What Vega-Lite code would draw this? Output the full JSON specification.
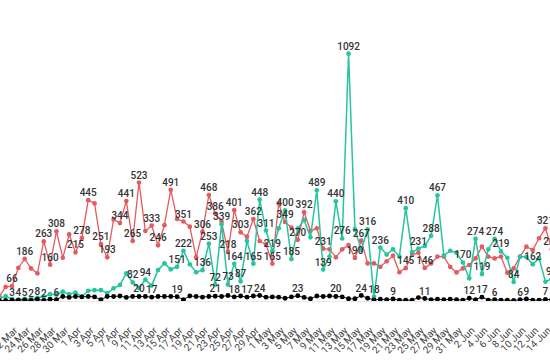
{
  "$schema": "https://vega.github.io/schema/vega-lite/v6.json",
  "width": 550,
  "height": 301,
  "padding": {"left": 0, "top": 0, "right": 0, "bottom": 61},
  "autosize": {"type": "none"},
  "background": "white",
  "config": {"view": {"stroke": null}, "font": "Roboto"},
  "data": {"values": [
    {"d":"2020-03-20","r":20,"t":10,"b":2},
    {"d":"2020-03-21","r":62,"t":22,"b":2},
    {"d":"2020-03-22","r":66,"t":8,"b":3,"lr":1,"lb":1},
    {"d":"2020-03-23","r":146,"t":6,"b":4,"lb":1},
    {"d":"2020-03-24","r":186,"t":10,"b":5,"lr":1,"lb":1},
    {"d":"2020-03-25","r":144,"t":8,"b":2,"lb":1},
    {"d":"2020-03-26","r":122,"t":14,"b":8,"lb":1},
    {"d":"2020-03-27","r":263,"t":20,"b":2,"lr":1,"lb":1},
    {"d":"2020-03-28","r":160,"t":30,"b":8,"lr":1},
    {"d":"2020-03-29","r":308,"t":28,"b":6,"lr":1,"lb":1},
    {"d":"2020-03-30","r":191,"t":41,"b":20},
    {"d":"2020-03-31","r":294,"t":30,"b":16},
    {"d":"2020-04-01","r":215,"t":37,"b":20,"lr":1},
    {"d":"2020-04-02","r":278,"t":19,"b":18,"lr":1},
    {"d":"2020-04-03","r":445,"t":45,"b":20,"lr":1},
    {"d":"2020-04-04","r":431,"t":48,"b":18},
    {"d":"2020-04-05","r":251,"t":48,"b":6,"lr":1},
    {"d":"2020-04-06","r":193,"t":35,"b":20,"lr":1},
    {"d":"2020-04-07","r":360,"t":56,"b":20},
    {"d":"2020-04-08","r":344,"t":71,"b":22,"lr":1},
    {"d":"2020-04-09","r":441,"t":122,"b":16,"lr":1},
    {"d":"2020-04-10","r":265,"t":82,"b":20,"lr":1,"lt":1},
    {"d":"2020-04-11","r":523,"t":57,"b":20,"lr":1,"lb":1},
    {"d":"2020-04-12","r":309,"t":94,"b":20,"lt":1},
    {"d":"2020-04-13","r":333,"t":68,"b":17,"lr":1,"lb":1},
    {"d":"2020-04-14","r":246,"t":137,"b":20,"lr":1},
    {"d":"2020-04-15","r":335,"t":166,"b":20},
    {"d":"2020-04-16","r":491,"t":140,"b":20,"lr":1},
    {"d":"2020-04-17","r":362,"t":151,"b":19,"lt":1,"lb":1},
    {"d":"2020-04-18","r":351,"t":222,"b":6,"lr":1,"lt":1},
    {"d":"2020-04-19","r":328,"t":162,"b":22},
    {"d":"2020-04-20","r":193,"t":127,"b":20},
    {"d":"2020-04-21","r":306,"t":136,"b":17,"lr":1,"lt":1},
    {"d":"2020-04-22","r":468,"t":253,"b":20,"lr":1,"lt":1},
    {"d":"2020-04-23","r":386,"t":72,"b":21,"lr":1,"lt":1,"lb":1},
    {"d":"2020-04-24","r":350,"t":339,"b":20,"lt":1},
    {"d":"2020-04-25","r":218,"t":73,"b":24,"lr":1,"lt":1},
    {"d":"2020-04-26","r":401,"t":164,"b":18,"lr":1,"lt":1,"lb":1},
    {"d":"2020-04-27","r":303,"t":87,"b":22,"lr":1,"lt":1},
    {"d":"2020-04-28","r":284,"t":265,"b":17,"lb":1},
    {"d":"2020-04-29","r":362,"t":165,"b":22,"lr":1,"lt":1},
    {"d":"2020-04-30","r":265,"t":448,"b":24,"lt":1,"lb":1},
    {"d":"2020-05-01","r":250,"t":311,"b":17,"lt":1},
    {"d":"2020-05-02","r":165,"t":219,"b":18,"lr":1,"lt":1},
    {"d":"2020-05-03","r":431,"t":321,"b":17},
    {"d":"2020-05-04","r":349,"t":400,"b":12,"lr":1,"lt":1},
    {"d":"2020-05-05","r":324,"t":185,"b":18,"lt":1},
    {"d":"2020-05-06","r":270,"t":320,"b":23,"lr":1,"lb":1},
    {"d":"2020-05-07","r":392,"t":358,"b":16,"lr":1},
    {"d":"2020-05-08","r":310,"t":281,"b":10},
    {"d":"2020-05-09","r":321,"t":489,"b":22,"lt":1},
    {"d":"2020-05-10","r":231,"t":139,"b":20,"lr":1,"lt":1},
    {"d":"2020-05-11","r":228,"t":196,"b":22},
    {"d":"2020-05-12","r":193,"t":440,"b":20,"lt":1,"lb":1},
    {"d":"2020-05-13","r":228,"t":276,"b":18,"lt":1},
    {"d":"2020-05-14","r":247,"t":1092,"b":10,"lt":1},
    {"d":"2020-05-15","r":190,"t":317,"b":10,"lr":1},
    {"d":"2020-05-16","r":267,"t":225,"b":24,"lr":1,"lb":1},
    {"d":"2020-05-17","r":166,"t":316,"b":12,"lt":1},
    {"d":"2020-05-18","r":166,"t":18,"b":5,"lt":1},
    {"d":"2020-05-19","r":151,"t":236,"b":8,"lt":1},
    {"d":"2020-05-20","r":175,"t":205,"b":6},
    {"d":"2020-05-21","r":200,"t":228,"b":9,"lb":1},
    {"d":"2020-05-22","r":127,"t":196,"b":4},
    {"d":"2020-05-23","r":145,"t":410,"b":4,"lr":1,"lt":1},
    {"d":"2020-05-24","r":205,"t":215,"b":4},
    {"d":"2020-05-25","r":213,"t":231,"b":15,"lt":1},
    {"d":"2020-05-26","r":146,"t":243,"b":11,"lr":1,"lb":1},
    {"d":"2020-05-27","r":166,"t":288,"b":6,"lt":1},
    {"d":"2020-05-28","r":196,"t":467,"b":8,"lt":1},
    {"d":"2020-05-29","r":196,"t":200,"b":6},
    {"d":"2020-05-30","r":151,"t":222,"b":8},
    {"d":"2020-05-31","r":126,"t":213,"b":6},
    {"d":"2020-06-01","r":144,"t":170,"b":4,"lt":1},
    {"d":"2020-06-02","r":159,"t":100,"b":12,"lb":1},
    {"d":"2020-06-03","r":188,"t":274,"b":6,"lt":1},
    {"d":"2020-06-04","r":240,"t":119,"b":17,"lt":1,"lb":1},
    {"d":"2020-06-05","r":196,"t":228,"b":4},
    {"d":"2020-06-06","r":188,"t":274,"b":6,"lt":1,"lb":1},
    {"d":"2020-06-07","r":196,"t":219,"b":4,"lt":1},
    {"d":"2020-06-08","r":125,"t":191,"b":4},
    {"d":"2020-06-09","r":144,"t":84,"b":2,"lt":1},
    {"d":"2020-06-10","r":196,"t":196,"b":6,"lb":1},
    {"d":"2020-06-11","r":240,"t":194,"b":9,"lb":1},
    {"d":"2020-06-12","r":225,"t":162,"b":4,"lt":1},
    {"d":"2020-06-13","r":277,"t":189,"b":4},
    {"d":"2020-06-14","r":321,"t":85,"b":7,"lr":1,"lb":1},
    {"d":"2020-06-15","r":229,"t":98,"b":6,"lr":1,"lt":1}
  ]},
  "encoding": {
    "x": {
      "field": "d",
      "type": "temporal",
      "scale": {
        "type": "utc",
        "domain": [
          {"year": 2020, "month": 3, "date": 20, "hours": 2, "minutes": 40, "utc": true},
          {"year": 2020, "month": 6, "date": 14, "hours": 17, "minutes": 15, "utc": true}
        ]
      },
      "axis": {
        "values": [
          {"year":2020,"month":3,"date":22,"utc":true},{"year":2020,"month":3,"date":24,"utc":true},
          {"year":2020,"month":3,"date":26,"utc":true},{"year":2020,"month":3,"date":28,"utc":true},
          {"year":2020,"month":3,"date":30,"utc":true},{"year":2020,"month":4,"date":1,"utc":true},
          {"year":2020,"month":4,"date":3,"utc":true},{"year":2020,"month":4,"date":5,"utc":true},
          {"year":2020,"month":4,"date":7,"utc":true},{"year":2020,"month":4,"date":9,"utc":true},
          {"year":2020,"month":4,"date":11,"utc":true},{"year":2020,"month":4,"date":13,"utc":true},
          {"year":2020,"month":4,"date":15,"utc":true},{"year":2020,"month":4,"date":17,"utc":true},
          {"year":2020,"month":4,"date":19,"utc":true},{"year":2020,"month":4,"date":21,"utc":true},
          {"year":2020,"month":4,"date":23,"utc":true},{"year":2020,"month":4,"date":25,"utc":true},
          {"year":2020,"month":4,"date":27,"utc":true},{"year":2020,"month":4,"date":29,"utc":true},
          {"year":2020,"month":5,"date":1,"utc":true},{"year":2020,"month":5,"date":3,"utc":true},
          {"year":2020,"month":5,"date":5,"utc":true},{"year":2020,"month":5,"date":7,"utc":true},
          {"year":2020,"month":5,"date":9,"utc":true},{"year":2020,"month":5,"date":11,"utc":true},
          {"year":2020,"month":5,"date":13,"utc":true},{"year":2020,"month":5,"date":15,"utc":true},
          {"year":2020,"month":5,"date":17,"utc":true},{"year":2020,"month":5,"date":19,"utc":true},
          {"year":2020,"month":5,"date":21,"utc":true},{"year":2020,"month":5,"date":23,"utc":true},
          {"year":2020,"month":5,"date":25,"utc":true},{"year":2020,"month":5,"date":27,"utc":true},
          {"year":2020,"month":5,"date":29,"utc":true},{"year":2020,"month":5,"date":31,"utc":true},
          {"year":2020,"month":6,"date":2,"utc":true},{"year":2020,"month":6,"date":4,"utc":true},
          {"year":2020,"month":6,"date":6,"utc":true},{"year":2020,"month":6,"date":8,"utc":true},
          {"year":2020,"month":6,"date":10,"utc":true},{"year":2020,"month":6,"date":12,"utc":true},
          {"year":2020,"month":6,"date":14,"utc":true},{"year":2020,"month":6,"date":16,"utc":true}
        ],
        "format": "%-d %b",
        "labelAngle": -45,
        "ticks": false,
        "tickSize": 0,
        "labelPadding": 24,
        "domain": true,
        "domainColor": "#e8e8e8",
        "grid": false,
        "title": null,
        "labelFont": "Roboto",
        "labelFontSize": 10,
        "labelColor": "#444",
        "labelOverlap": false,
        "labelFlush": false,
        "labelBound": false
      }
    }
  },
  "layer": [
    {"mark": {"type": "line", "color": "#e45a5f", "strokeWidth": 1.3, "clip": true},
     "encoding": {"y": {"field": "r", "type": "quantitative", "scale": {"domain": [0, 1329]}, "axis": null}}},
    {"mark": {"type": "circle", "color": "#e45a5f", "size": 22, "opacity": 1, "clip": true},
     "encoding": {"y": {"field": "r", "type": "quantitative", "scale": {"domain": [0, 1329]}, "axis": null}}},
    {"mark": {"type": "line", "color": "#26c49f", "strokeWidth": 1.5, "clip": true},
     "encoding": {"y": {"field": "t", "type": "quantitative", "scale": {"domain": [0, 1329]}, "axis": null}}},
    {"mark": {"type": "circle", "color": "#26c49f", "size": 22, "opacity": 1, "clip": true},
     "encoding": {"y": {"field": "t", "type": "quantitative", "scale": {"domain": [0, 1329]}, "axis": null}}},
    {"mark": {"type": "line", "color": "#111", "strokeWidth": 1, "clip": true},
     "encoding": {"y": {"field": "b", "type": "quantitative", "scale": {"domain": [0, 1329]}, "axis": null}}},
    {"mark": {"type": "circle", "color": "#000", "size": 24, "opacity": 1, "clip": true},
     "encoding": {"y": {"field": "b", "type": "quantitative", "scale": {"domain": [0, 1329]}, "axis": null}}},
    {"transform": [{"filter": "datum.lr"}],
     "mark": {"type": "text", "dy": -4, "baseline": "alphabetic", "fontSize": 10, "fontWeight": 500, "color": "#333"},
     "encoding": {"y": {"field": "r", "type": "quantitative", "scale": {"domain": [0, 1329]}, "axis": null},
                  "text": {"field": "r", "type": "quantitative", "format": "d"}}},
    {"transform": [{"filter": "datum.lt"}],
     "mark": {"type": "text", "dy": -4, "baseline": "alphabetic", "fontSize": 10, "fontWeight": 500, "color": "#333"},
     "encoding": {"y": {"field": "t", "type": "quantitative", "scale": {"domain": [0, 1329]}, "axis": null},
                  "text": {"field": "t", "type": "quantitative", "format": "d"}}},
    {"transform": [{"filter": "datum.lb"}],
     "mark": {"type": "text", "dy": -4, "baseline": "alphabetic", "fontSize": 10, "fontWeight": 500, "color": "#333"},
     "encoding": {"y": {"field": "b", "type": "quantitative", "scale": {"domain": [0, 1329]}, "axis": null},
                  "text": {"field": "b", "type": "quantitative", "format": "d"}}}
  ]
}
